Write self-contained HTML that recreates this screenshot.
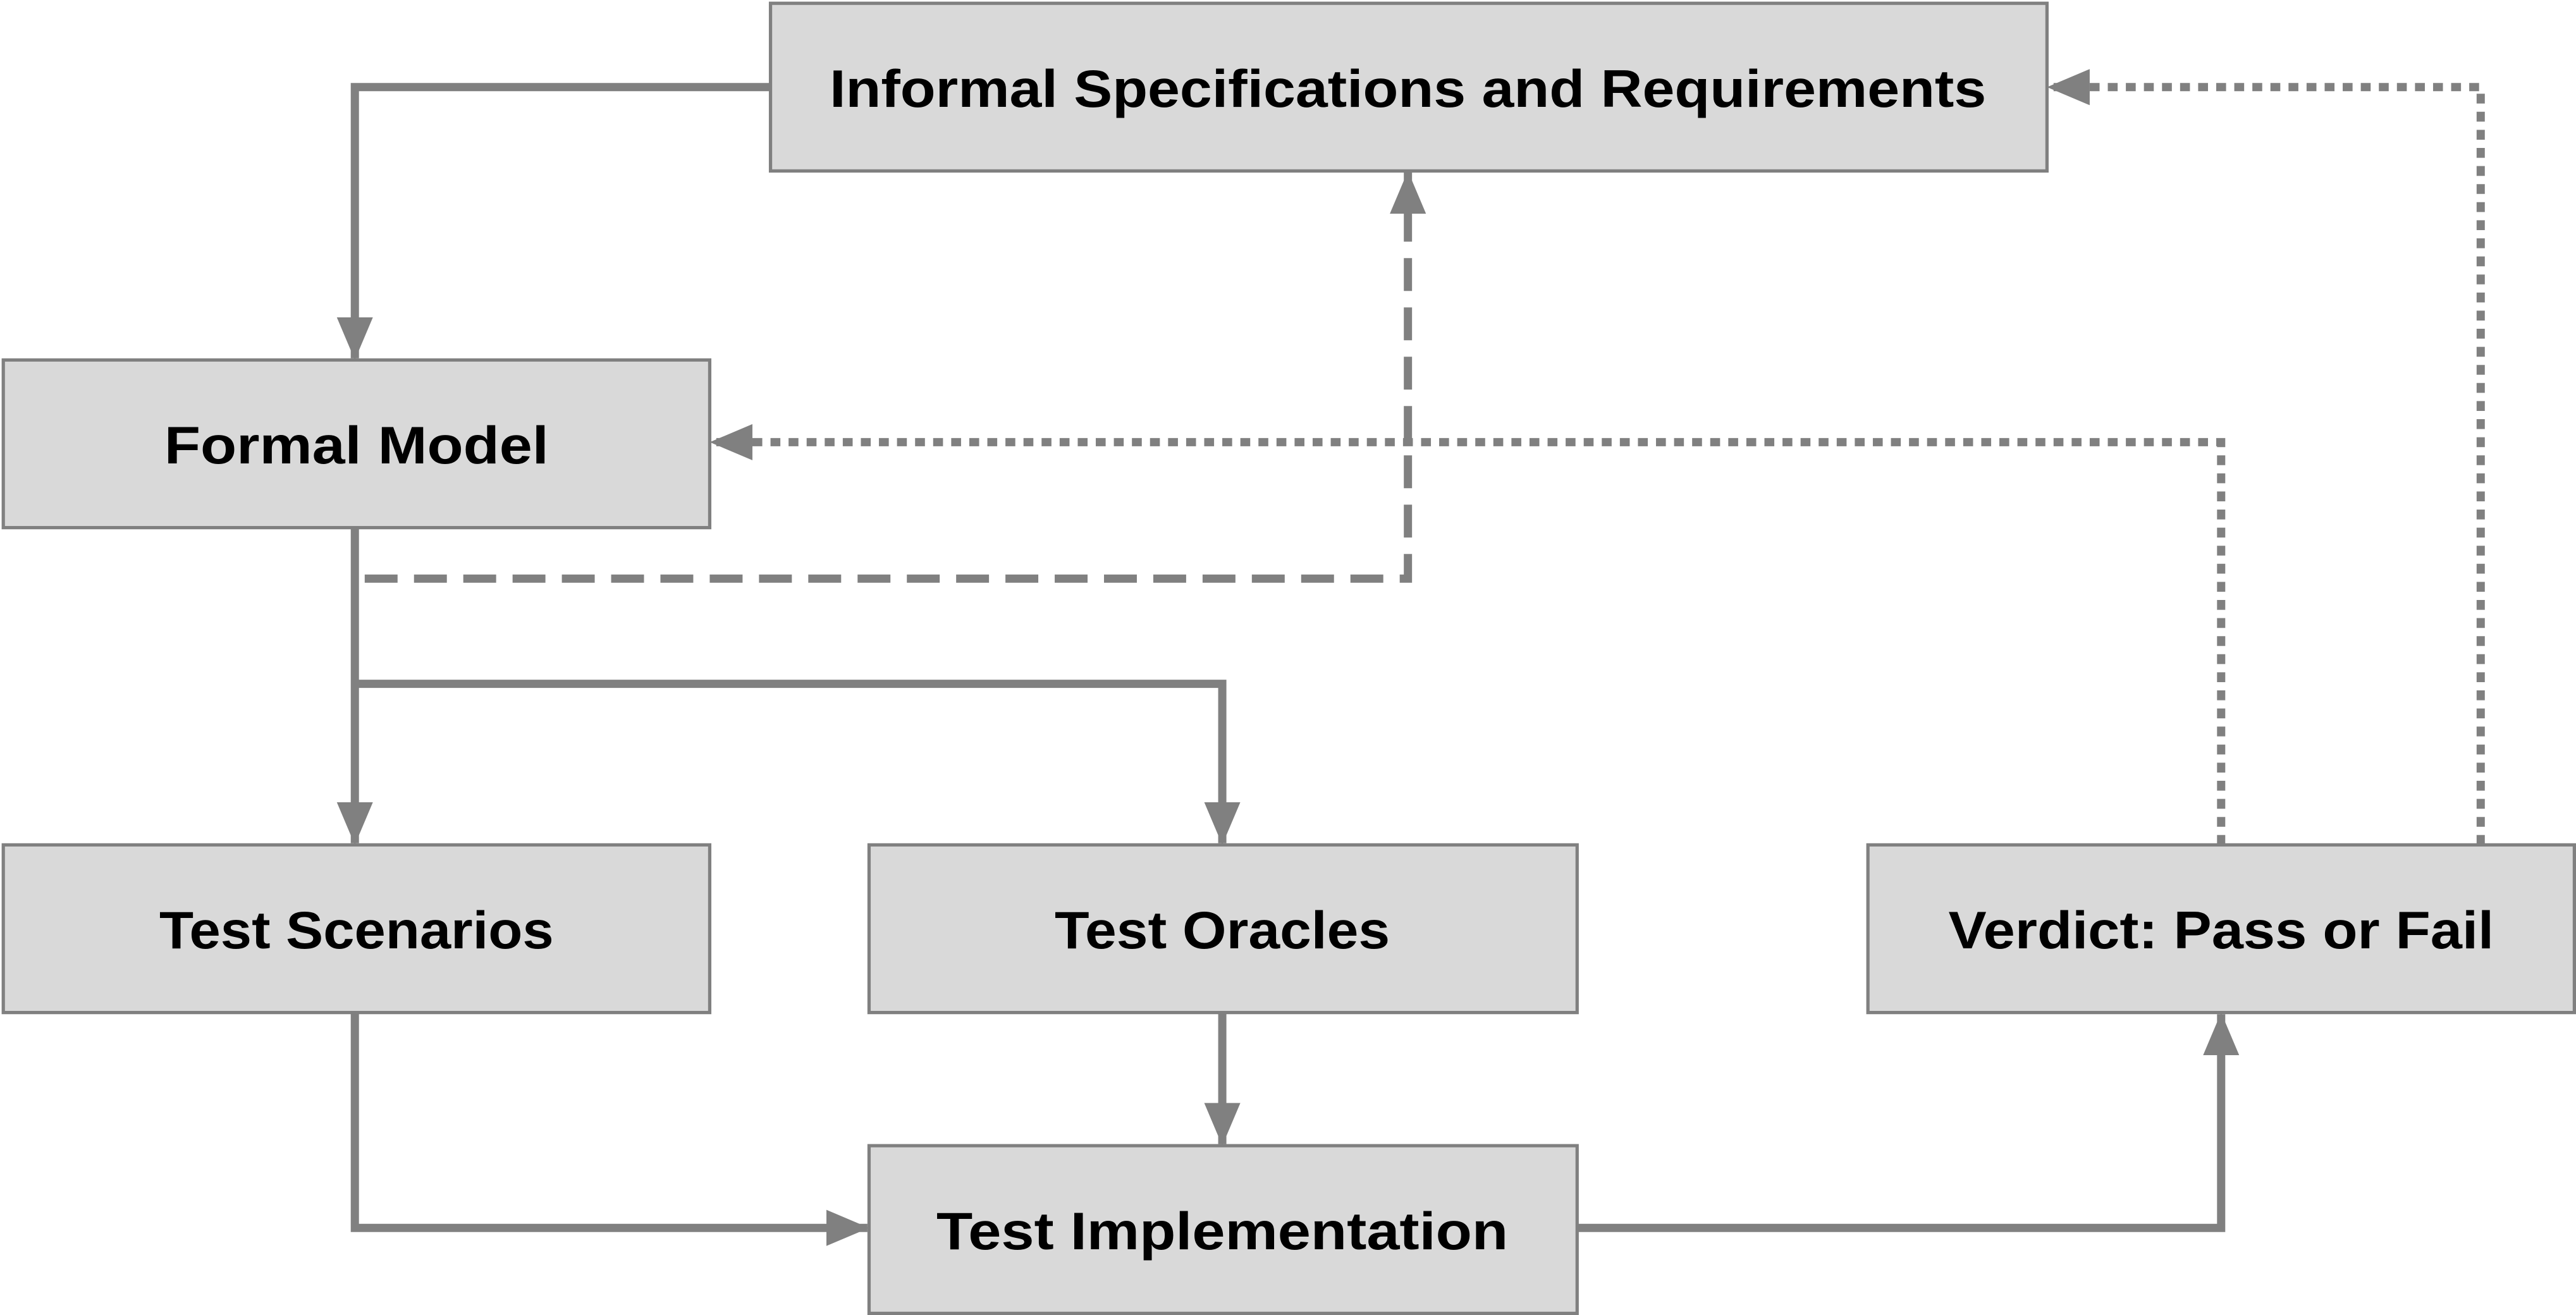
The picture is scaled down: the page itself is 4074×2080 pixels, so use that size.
<!DOCTYPE html>
<html><head><meta charset="utf-8"><style>html,body{margin:0;padding:0;background:#fff}svg{display:block}</style></head>
<body>
<svg width="4074" height="2080" viewBox="0 0 1568 800" preserveAspectRatio="none" xmlns="http://www.w3.org/2000/svg">
<defs>
<marker id="a" markerUnits="userSpaceOnUse" markerWidth="26" markerHeight="22" refX="25" refY="11" orient="auto"><path d="M0,0 L26,11 L0,22 Z" fill="#808080"/></marker>
</defs>
<g fill="#d9d9d9" stroke="#808080" stroke-width="2">
<rect x="469" y="2" width="777" height="102"/>
<rect x="2" y="219" width="430" height="102"/>
<rect x="2" y="514" width="430" height="102"/>
<rect x="529" y="514" width="431" height="102"/>
<rect x="1137" y="514" width="430" height="102"/>
<rect x="529" y="697" width="431" height="102"/>
</g>
<g fill="none" stroke="#808080" stroke-width="5">
<path d="M469,53 H216 V218" marker-end="url(#a)"/>
<path d="M216,321 V513" marker-end="url(#a)"/>
<path d="M216,416 H744 V513" marker-end="url(#a)"/>
<path d="M222,352 H857 V105" stroke-dasharray="20,10" marker-end="url(#a)"/>
<path d="M1352,514 V269 H433" stroke-dasharray="6,5" marker-end="url(#a)"/>
<path d="M1510,514 V53 H1247" stroke-dasharray="6,5" marker-end="url(#a)"/>
<path d="M744,616 V696" marker-end="url(#a)"/>
<path d="M216,616 V747 H528" marker-end="url(#a)"/>
<path d="M960,747 H1352 V617" marker-end="url(#a)"/>
</g>
<g font-family="'Liberation Sans', 'NanumGothic', sans-serif" font-weight="bold" font-size="32" fill="#000" text-anchor="middle">
<text x="857" y="65" textLength="704" lengthAdjust="spacingAndGlyphs">Informal Specifications and Requirements</text>
<text x="217" y="282" textLength="234" lengthAdjust="spacingAndGlyphs">Formal Model</text>
<text x="217" y="577" textLength="240" lengthAdjust="spacingAndGlyphs">Test Scenarios</text>
<text x="744" y="577" textLength="204" lengthAdjust="spacingAndGlyphs">Test Oracles</text>
<text x="1352" y="577" textLength="332" lengthAdjust="spacingAndGlyphs">Verdict: Pass or Fail</text>
<text x="744" y="760" textLength="348" lengthAdjust="spacingAndGlyphs">Test Implementation</text>
</g>
</svg>
</body></html>
